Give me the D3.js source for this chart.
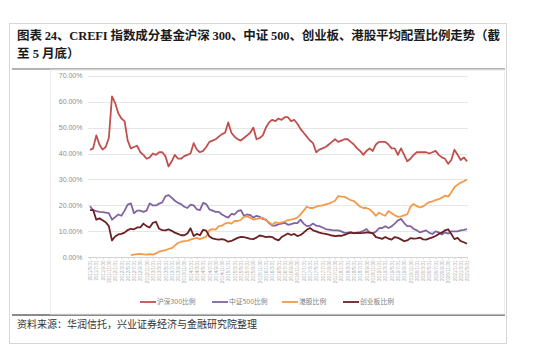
<!DOCTYPE html>
<html>
<head>
<meta charset="utf-8">
<script src="https://cdn.jsdelivr.net/npm/d3@7"></script>
<style>
  body { margin: 0; background: #fff; }
  svg { display: block; }
</style>
</head>
<body>
<script>
var w = 550;
var h = 354;

// monthly, end of month, 2011/5 .. 2021/5
var startMonth = new Date(2011, 4, 1);
var endMonth = new Date(2021, 5, 1);
var categories = d3.timeMonth.range(startMonth, endMonth).map(function(d){
    var last = d3.timeDay.offset(d3.timeMonth.offset(d, 1), -1);
    return last.getFullYear() + "/" + (last.getMonth() + 1) + "/" + last.getDate();
});

var seriesNames = ["沪深300比例", "中证500比例", "港股比例", "创业板比例"];
var seriesColors = ["#c0504d", "#8064a2", "#f59a4a", "#6b2123"];

var hs300 = [
    41.4, 42, 47, 43.5, 41.5, 42.5, 46, 62, 59.5, 55.5,
    53.5, 52.5, 45, 42, 42.5, 43, 40.5, 39.5, 38, 38.5,
    40, 39.5, 40.5, 40.5, 39, 35, 37, 39.5, 38, 38,
    39, 39.5, 40, 44, 41.5, 40.5, 41, 42.5, 44.5, 45,
    45.5, 46.5, 47.5, 48, 52, 48, 46.5, 45.5, 45, 46,
    47, 48, 50, 45.5, 46, 47, 50, 52, 53, 52.5,
    53.5, 53, 54, 54, 52.5, 53, 51.5, 49.5, 48, 46.5,
    45, 44, 40.5, 41.5, 42, 42.5, 43.5, 44.5, 45.5, 44.5,
    45, 45.5, 45.5, 44.5, 43.5, 42, 41, 39.5, 41, 42,
    41, 43.5, 44.5, 44.5, 44.5, 43.5, 42, 42, 39.5, 42,
    39.5, 37, 38, 39.5, 40.5, 40.5, 40.5, 40.5, 40, 40.5,
    41, 39.5, 38.5, 38, 36, 37.5, 41.5, 39.5, 37.5, 38.5, 37
];

var zz500 = [
    19.7, 18.2, 17.8, 17.5, 17.4, 17.2, 17, 14.5, 15.5, 16.5,
    16, 18, 20.3, 20.8, 17, 18, 18, 17.5, 18, 20.8,
    20, 20, 20.7, 21.2, 23.5, 24, 23, 21.8, 21, 20.5,
    19.5, 19, 20.3, 20, 18.5, 18.2, 21, 20.5, 18.5, 18,
    17.5, 17.5, 16.5, 15.8, 15.3, 16.7, 16.5, 17.8, 18.2, 16,
    16.5, 16.3, 15.3, 16, 15.6, 14.8, 14.5, 13.2, 12.2, 12.2,
    12.8, 13, 13.3, 12.5, 12.8, 13.2, 13.2, 14.5, 13, 12,
    12.2, 13, 12.2, 12, 11.5, 10.9, 10.7, 10.5, 10.4, 10.4,
    10, 9.4, 9.5, 9.7, 9.2, 9.5, 9.7, 10.2, 10.9, 9.5,
    9.2, 9.9, 11.2, 11.3, 12, 11.3, 11.9, 13, 14.2, 14.8,
    13.2, 12, 12, 11, 10.4, 9.6, 10, 10.4, 9.4, 9,
    10, 9.6, 8.8, 9.6, 9.1, 10, 10, 10, 10.4, 10.6, 10.9
];

var hk = [
    null, null, null, null, null, null, null, null, null, null,
    null, null, null, 0.8, 1, 1.2, 1.3, 1.1, 1, 1.2,
    1, 1.5, 2.2, 2.5, 2.8, 3.2, 3.5, 4.5, 5.5, 6,
    6.2, 6.3, 6.8, 7.2, 7.5, 7, 7.5, 8, 10.5, 10.9,
    10.7, 12, 12.2, 13, 13.4, 13, 14, 14, 14.4, 15.6,
    15.8, 15.2, 14.5, 14.8, 15, 15.3, 14.2, 13.5, 12.5, 13.5,
    13.2, 13.5, 13.8, 14.3, 14.5, 14.8, 15.3, 16.5, 18, 19.5,
    19, 19, 19.5, 19.8, 20, 20.4, 20.7, 21.2, 21.8, 23.6,
    23.4, 23.3, 22.7, 22, 21.7, 20.6, 19.5, 19, 19, 18.5,
    17.4, 16, 17.2, 16.5, 16, 17.8, 17, 16.2, 15.6, 15.8,
    16.2, 16.6, 19.5, 20.6, 19.7, 19.2, 19.6, 20.5, 21.3, 21.6,
    22, 22.4, 23, 23.8, 23.4, 25, 27, 28, 28.8, 29.3, 30
];

var gem = [
    18.2, 18.2, 14.5, 15, 14.3, 13.5, 12, 6.5, 8, 8.8,
    9, 9.5, 10.5, 11, 10.8, 11.5, 11.5, 13, 12, 11.5,
    13.3, 13.7, 11, 10.5, 10.4, 10.8, 10.2, 9.5, 9, 8.5,
    8.5, 9.2, 11.2, 8.2, 9, 8.5, 10.6, 10.3, 8, 7.3,
    7, 6.8, 7, 6.7, 6, 6.3, 6.9, 7.5, 7.9, 7.8,
    7.5, 7.1, 7, 7.6, 8.4, 8.2, 7.8, 8, 7.8, 7,
    6.5, 7.8, 8.5, 9.2, 8.6, 9, 8.2, 8.6, 9.5, 10.6,
    11.3, 10.4, 10, 9.5, 9.2, 9, 8.7, 8.4, 8.2, 8.3,
    8.3, 8.6, 9.1, 9.5, 9.3, 9.4, 9.3, 9.4, 9.6, 9.5,
    9.3, 7.8, 7.5, 7.1, 7.8, 7.2, 6.8, 7.8, 7.5, 6.9,
    6.2, 6.5, 7.4, 7.2, 7.3, 7.6, 6.9, 6.8, 7.3, 7.7,
    8.2, 9, 9.5, 10.4, 10.8, 9, 7, 7.5, 6.2, 5.8, 5.2
];

var yTicks = [0, 10, 20, 30, 40, 50, 60, 70];

var allSeries = [hs300, zz500, hk, gem];

var svg = d3.select("body")
            .append("svg")
            .attr("width", w)
            .attr("height", h);

// outer frame
svg.append("rect")
    .attr("x", 9.5).attr("y", 23.5)
    .attr("width", 497).attr("height", 320)
    .attr("fill", "none")
    .attr("stroke", "#d6d6d6");

// title
var titleFont = "'Liberation Serif', 'Noto Sans CJK SC', serif";
svg.append("text")
    .attr("x", 17).attr("y", 40)
    .attr("font-family", titleFont)
    .attr("font-weight", 600)
    .attr("font-size", 12.5)
    .attr("fill", "#1a1a1a")
    .attr("textLength", 483)
    .attr("lengthAdjust", "spacing")
    .text("图表 24、CREFI 指数成分基金沪深 300、中证 500、创业板、港股平均配置比例走势（截");
svg.append("text")
    .attr("x", 17).attr("y", 58)
    .attr("font-family", titleFont)
    .attr("font-weight", 600)
    .attr("font-size", 12.5)
    .attr("fill", "#1a1a1a")
    .text("至 5 月底）");

// rules
svg.append("line")
    .attr("x1", 12).attr("x2", 505)
    .attr("y1", 69).attr("y2", 69)
    .attr("stroke", "#9a9a9a").attr("stroke-width", 1.5);
svg.append("line")
    .attr("x1", 12).attr("x2", 505)
    .attr("y1", 315).attr("y2", 315)
    .attr("stroke", "#8a8a8a").attr("stroke-width", 2);

// excel chart area border
svg.append("rect")
    .attr("x", 50.5).attr("y", 70)
    .attr("width", 454).attr("height", 244)
    .attr("fill", "none")
    .attr("stroke", "#ececec");

// source
svg.append("text")
    .attr("x", 17).attr("y", 328)
    .attr("font-family", titleFont)
    .attr("font-size", 10)
    .attr("fill", "#333")
    .text("资料来源：华润信托，兴业证券经济与金融研究院整理");

var x = d3.scalePoint()
    .domain(categories)
    .range([90, 467]);

var y = d3.scaleLinear()
    .domain([0, 70])
    .range([257.3, 75.7]);

// gridlines
svg.append("g")
    .selectAll("line")
    .data(yTicks)
    .enter()
    .append("line")
    .attr("x1", 88).attr("x2", 468)
    .attr("y1", function(d){ return Math.round(y(d)) + 0.5; })
    .attr("y2", function(d){ return Math.round(y(d)) + 0.5; })
    .attr("stroke", function(d){ return d === 0 ? "#d4d4d4" : "#e6e6e6"; })
    .attr("stroke-width", 1);

// y labels
var yAxis = d3.axisLeft(y)
    .tickValues(yTicks)
    .tickSize(0)
    .tickPadding(0)
    .tickFormat(function(d){ return d.toFixed(2) + "%"; });
var gy = svg.append("g")
    .attr("transform", "translate(82.5,0)")
    .call(yAxis);
gy.select(".domain").remove();
gy.selectAll("text")
    .attr("font-family", "'Liberation Sans', Arial, sans-serif")
    .attr("font-size", 7)
    .attr("fill", "#8c8c8c");

// x labels, every second month
var xAxis = d3.axisBottom(x)
    .tickValues(categories.filter(function(d, i){ return i % 2 === 0; }))
    .tickSize(2)
    .tickPadding(1);
var gx = svg.append("g")
    .attr("transform", "translate(0,257.5)")
    .call(xAxis);
gx.select(".domain").remove();
gx.selectAll("line").attr("stroke", "#dadada");
gx.selectAll("text")
    .attr("font-family", "'Liberation Sans', Arial, sans-serif")
    .attr("font-size", 4.6)
    .attr("fill", "#aaa")
    .attr("text-anchor", "end")
    .attr("dy", "0.35em")
    .attr("transform", "rotate(-90)")
    .attr("x", -3)
    .attr("y", 0);

// lines
var line = d3.line()
    .defined(function(d){ return d !== null; })
    .x(function(d, i){ return x(categories[i]); })
    .y(function(d){ return y(d); });

svg.append("g")
    .selectAll("path")
    .data(allSeries)
    .enter()
    .append("path")
    .attr("d", line)
    .attr("fill", "none")
    .attr("stroke", function(d, i){ return seriesColors[i]; })
    .attr("stroke-width", 1.8)
    .attr("stroke-linejoin", "round");

// legend
var legendX = [140, 212, 282, 343];
var lg = svg.append("g")
    .selectAll("g")
    .data(seriesNames)
    .enter()
    .append("g")
    .attr("transform", function(d, i){ return "translate(" + legendX[i] + ",302)"; });
lg.append("line")
    .attr("x1", 0).attr("x2", 16)
    .attr("stroke", function(d, i){ return seriesColors[i]; })
    .attr("stroke-width", 1.8);
lg.append("text")
    .attr("x", 17)
    .attr("dy", "0.35em")
    .attr("font-family", "'Noto Sans CJK SC', sans-serif")
    .attr("font-size", 6.8)
    .attr("fill", "#808080")
    .text(function(d){ return d; });
</script>
</body>
</html>
